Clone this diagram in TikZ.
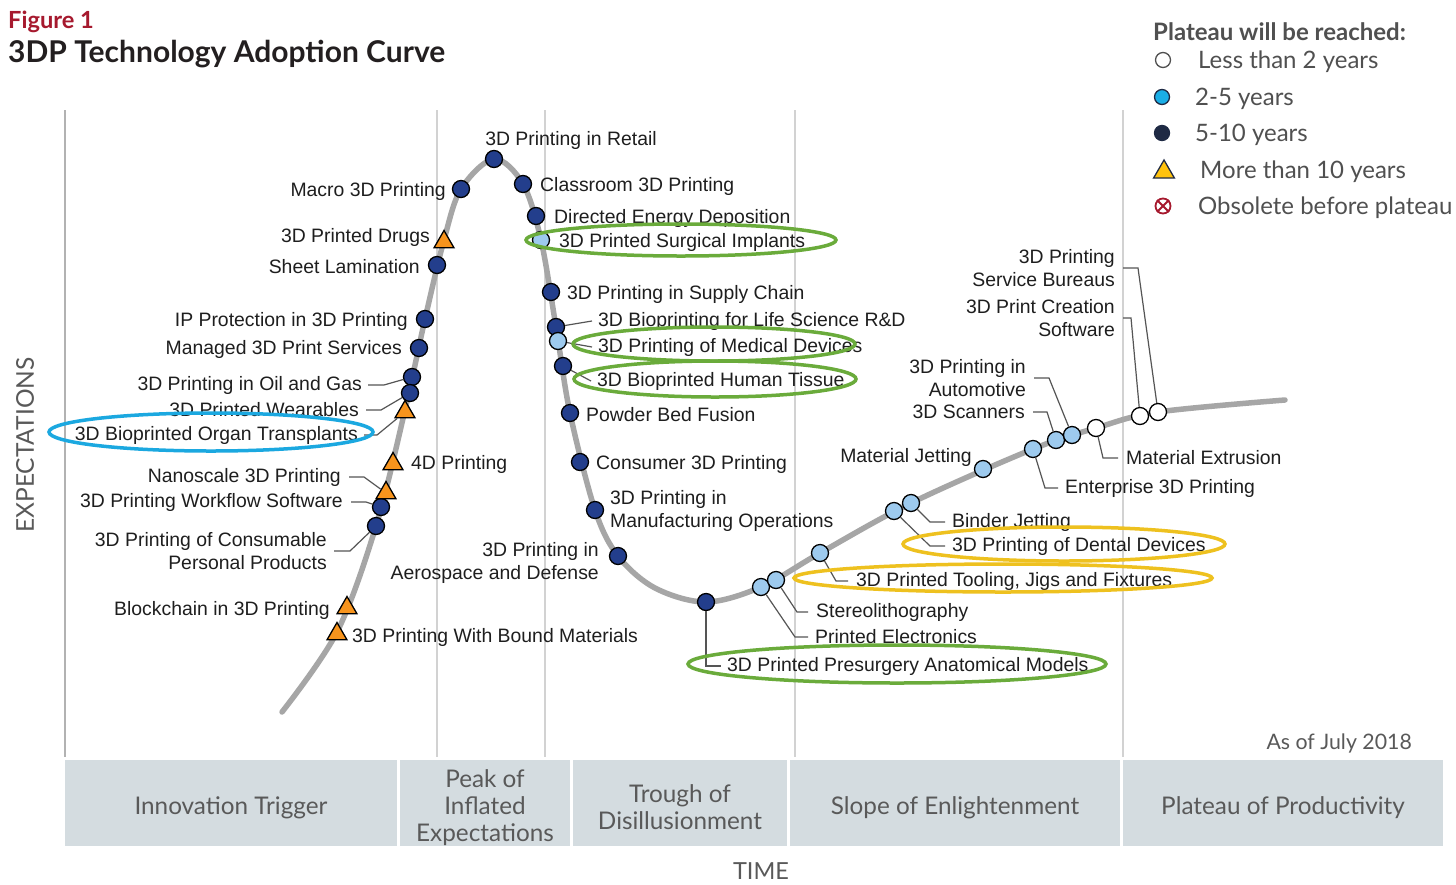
\documentclass[tikz,border=0pt]{standalone}
\usepackage{fontspec}
\usetikzlibrary{shapes.geometric}
\newfontfamily\lato{Lato}
\newfontfamily\labfont{Liberation Sans}
\definecolor{figred}{HTML}{A6192E}
\definecolor{titlec}{HTML}{231F20}
\definecolor{legc}{HTML}{505050}
\definecolor{bandc}{HTML}{D4DCE0}
\definecolor{bandtext}{HTML}{595959}
\definecolor{gridc}{HTML}{D2D2D2}
\definecolor{curvec}{HTML}{A6A6A6}
\definecolor{navy}{HTML}{233E8C}
\definecolor{lblue}{HTML}{9DCAEE}
\definecolor{orangeT}{HTML}{F7941D}
\definecolor{legblue}{HTML}{1AAEE6}
\definecolor{legnavy}{HTML}{1F2A44}
\definecolor{legyellow}{HTML}{FFC20E}
\definecolor{ringgreen}{HTML}{6AAB3B}
\definecolor{ringblue}{HTML}{1BA8E0}
\definecolor{ringyellow}{HTML}{EEC11F}
\definecolor{labc}{HTML}{1E1E1E}
\definecolor{leadc}{HTML}{555555}
\tikzset{
  lbl/.style={font=\labfont\fontsize{19.4}{23}\selectfont, text=labc, inner sep=0pt, yshift=-2pt},
  mk/.style={circle, draw=black, line width=1.3pt, minimum size=17pt, inner sep=0pt},
  dk/.style={mk, fill=navy},
  lt/.style={mk, fill=lblue},
  wh/.style={mk, fill=white},
  tri/.style={regular polygon, regular polygon sides=3, draw=black, line width=1.3pt, fill=orangeT, minimum size=23pt, inner sep=0pt},
  leader/.style={draw=leadc, line width=1.2pt},
  grid/.style={draw=gridc, line width=1.6pt},
  ringg/.style={draw=ringgreen, line width=3.5pt},
  ringb/.style={draw=ringblue, line width=3.5pt},
  ringy/.style={draw=ringyellow, line width=3.5pt},
  band/.style={fill=bandc, inner sep=0pt, minimum height=86pt},
  bandtxt/.style={text=bandtext, align=center, inner sep=0pt, font=\lato\fontsize{24.3}{27}\selectfont},
  legtxt/.style={anchor=west, text=legc, inner sep=0pt, yshift=-2pt, font=\lato\fontsize{24}{28}\selectfont},
}
\begin{document}
\begin{tikzpicture}[x=1pt,y=-1pt]
\useasboundingbox (0,0) rectangle (1456,884);
\fill[white] (0,0) rectangle (1456,884);
% title
\node[anchor=base west, inner sep=0pt, text=figred, font=\lato\bfseries\fontsize{23.6}{26}\selectfont] (fig) at (8,28) {Figure 1};
\node[anchor=base west, inner sep=0pt, text=titlec, font=\lato\bfseries\fontsize{30}{34}\selectfont] (title) at (8,62) {3DP Technology Adoption Curve};
% legend
\node[legtxt, font=\lato\bfseries\fontsize{24}{28}\selectfont] (leghead) at (1153,30) {Plateau will be reached:};
\node[circle, draw=legc, line width=1.3pt, fill=white, minimum size=15pt, inner sep=0pt] (lg1) at (1163,60) {};
\node[legtxt] (lt1) at (1198,60) {Less than 2 years};
\node[circle, draw=legnavy, line width=1.3pt, fill=legblue, minimum size=15pt, inner sep=0pt] (lg2) at (1162,97) {};
\node[legtxt] (lt2) at (1195,97) {2-5 years};
\node[circle, draw=legnavy, line width=1.3pt, fill=legnavy, minimum size=15pt, inner sep=0pt] (lg3) at (1162,133) {};
\node[legtxt] (lt3) at (1195,133) {5-10 years};
\node[regular polygon, regular polygon sides=3, draw=legnavy, line width=1.3pt, fill=legyellow, minimum size=24pt, inner sep=0pt] (lg4) at (1164,172) {};
\node[legtxt] (lt4) at (1200,170) {More than 10 years};
\node[circle, draw=figred, line width=1.8pt, minimum size=15pt, inner sep=0pt] (lg5) at (1163,206) {};
\draw[figred, line width=1.8pt] (lg5.45) -- (lg5.225) (lg5.135) -- (lg5.315);
\node[legtxt] (lt5) at (1198,206) {Obsolete before plateau};
% grid lines
\draw[draw=gridc!85!black, line width=1.8pt] (65,110) -- (65,757);
\draw[grid] (437,110) -- (437,757);
\draw[grid] (545,110) -- (545,757);
\draw[grid] (795,110) -- (795,757);
\draw[grid] (1123,110) -- (1123,757);
% axis labels
\node[rotate=90, text=bandtext, inner sep=0pt, font=\lato\fontsize{24.5}{28}\selectfont] (ylab) at (25,445) {EXPECTATIONS};
\node[text=bandtext, inner sep=0pt, font=\lato\fontsize{23.5}{28}\selectfont] (xlab) at (761,871) {TIME};
\node[anchor=east, text=bandtext, inner sep=0pt, font=\lato\fontsize{21.3}{24}\selectfont] (asof) at (1412,743) {As of July 2018};
% band
\node[band, minimum width=332pt] (b1) at (231,803) {};
\node[band, minimum width=170pt] (b2) at (485,803) {};
\node[band, minimum width=214pt] (b3) at (680,803) {};
\node[band, minimum width=330pt] (b4) at (955,803) {};
\node[band, minimum width=320pt] (b5) at (1283,803) {};
\node[bandtxt] (t1) at ([yshift=-5pt]b1.center) {Innovation Trigger};
\node[bandtxt] (t2) at ([yshift=-5pt]b2.center) {Peak of\\Inflated\\Expectations};
\node[bandtxt] (t3) at ([yshift=-4pt]b3.center) {Trough of\\Disillusionment};
\node[bandtxt] (t4) at ([yshift=-5pt]b4.center) {Slope of Enlightenment};
\node[bandtxt] (t5) at ([yshift=-5pt]b5.center) {Plateau of Productivity};
% curve
\draw[curvec, line width=5.5pt, line cap=round] plot[smooth, tension=0.55] coordinates {(282,712) (337,632) (376,526) (405,410) (425,319) (444,240) (461,189) (494,159) (523,184) (541,240) (556,327) (570,413) (595,510) (618,556) (655,588) (706,602) (761,587) (820,553) (911,503) (1033,449) (1096,428) (1158,412) (1285,400)};
% markers
\node[dk] (mRT) at (494,159) {};
\node[dk] (mMA) at (461,189) {};
\node[dk] (mCL) at (523,184) {};
\node[dk] (mDE) at (536,216) {};
\node[dk] (mSL) at (437,265) {};
\node[dk] (mSU) at (551,292) {};
\node[dk] (mIP) at (425,319) {};
\node[dk] (mMS) at (419,348) {};
\node[dk] (mBL) at (556,327) {};
\node[dk] (mOG) at (412,377) {};
\node[dk] (mWE) at (410,393) {};
\node[dk] (mHT) at (563,366) {};
\node[dk] (mPB) at (570,413) {};
\node[dk] (mCO) at (580,462) {};
\node[dk] (mWF) at (381,507) {};
\node[dk] (mCP) at (376,526) {};
\node[dk] (mMO) at (595,510) {};
\node[dk] (mAD) at (618,556) {};
\node[dk] (mPS) at (706,602) {};
\node[lt] (mSI) at (541,240) {};
\node[lt] (mMD) at (558,341) {};
\node[lt] (mPE) at (761,587) {};
\node[lt] (mST) at (776,580) {};
\node[lt] (mTJ) at (820,553) {};
\node[lt] (mDD) at (894,511) {};
\node[lt] (mBJ) at (911,503) {};
\node[lt] (mMJ) at (983,469) {};
\node[lt] (mEP) at (1033,449) {};
\node[lt] (mSC) at (1056,440) {};
\node[lt] (mAU) at (1072,435) {};
\node[wh] (mME) at (1096,428) {};
\node[wh] (mCS) at (1140,416) {};
\node[wh] (mSB) at (1158,412) {};
\node[tri] (mDR) at (444,242) {};
\node[tri] (mOT) at (405,412) {};
\node[tri] (mFD) at (393,464) {};
\node[tri] (mNS) at (386,493) {};
\node[tri] (mBC) at (347,608) {};
\node[tri] (mBM) at (337,634) {};
% labels right
\node[lbl] (lRT) at (571,138) {3D Printing in Retail};
\node[lbl, anchor=west] (lCL) at (540,184) {Classroom 3D Printing};
\node[lbl, anchor=west] (lDE) at (554,216) {Directed Energy Deposition};
\node[lbl, anchor=west] (lSI) at (559,240) {3D Printed Surgical Implants};
\node[lbl, anchor=west] (lSU) at (567,292) {3D Printing in Supply Chain};
\node[lbl, anchor=west] (lBL) at (598,319) {3D Bioprinting for Life Science R\&D};
\node[lbl, anchor=west] (lMD) at (598,345) {3D Printing of Medical Devices};
\node[lbl, anchor=west] (lHT) at (597,379) {3D Bioprinted Human Tissue};
\node[lbl, anchor=west] (lPB) at (586,413) {Powder Bed Fusion};
\node[lbl, anchor=west] (lCO) at (596,462) {Consumer 3D Printing};
\node[lbl, anchor=west, align=left] (lMO) at (610,509) {3D Printing in\\Manufacturing Operations};
\node[lbl, anchor=west] (lFD) at (411,462) {4D Printing};
\node[lbl, anchor=west] (lBM) at (352,635) {3D Printing With Bound Materials};
\node[lbl, anchor=west] (lPS) at (727,664) {3D Printed Presurgery Anatomical Models};
\node[lbl, anchor=west] (lPE) at (815,635) {Printed Electronics};
\node[lbl, anchor=west] (lST) at (816,610) {Stereolithography};
\node[lbl, anchor=west] (lTJ) at (856,579) {3D Printed Tooling, Jigs and Fixtures};
\node[lbl, anchor=west] (lDD) at (952,544) {3D Printing of Dental Devices};
\node[lbl, anchor=west] (lBJ) at (952,520) {Binder Jetting};
\node[lbl, anchor=west] (lEP) at (1065,486) {Enterprise 3D Printing};
\node[lbl, anchor=west] (lME) at (1126,456) {Material Extrusion};
% labels left
\node[lbl, anchor=east] (lMA) at (446,189) {Macro 3D Printing};
\node[lbl, anchor=east] (lDR) at (430,235) {3D Printed Drugs};
\node[lbl, anchor=east] (lSL) at (420,265) {Sheet Lamination};
\node[lbl, anchor=east] (lIP) at (408,319) {IP Protection in 3D Printing};
\node[lbl, anchor=east] (lMS) at (402,347) {Managed 3D Print Services};
\node[lbl, anchor=east] (lOG) at (362,383) {3D Printing in Oil and Gas};
\node[lbl, anchor=east] (lWE) at (359,408) {3D Printed Wearables};
\node[lbl, anchor=east] (lOT) at (358,433) {3D Bioprinted Organ Transplants};
\node[lbl, anchor=east] (lNS) at (341,475) {Nanoscale 3D Printing};
\node[lbl, anchor=east] (lWF) at (343,500) {3D Printing Workflow Software};
\node[lbl, anchor=east, align=right] (lCP) at (327,549) {3D Printing of Consumable\\Personal Products};
\node[lbl, anchor=east] (lBC) at (330,608) {Blockchain in 3D Printing};
\node[lbl, anchor=east, align=right] (lAD) at (599,561) {3D Printing in\\Aerospace and Defense};
\node[lbl, anchor=east] (lMJ) at (972,455) {Material Jetting};
\node[lbl, anchor=east] (lSC) at (1025,410) {3D Scanners};
\node[lbl, anchor=east, align=right] (lAU) at (1026,376) {3D Printing in\\Automotive};
\node[lbl, anchor=east, align=right] (lSB) at (1115,266) {3D Printing\\Service Bureaus};
\node[lbl, anchor=east, align=right] (lCS) at (1115,316) {3D Print Creation\\Software};
% leaders
\draw[leader] (mBL) -- ([xshift=-6pt]lBL.west);
\draw[leader] (mMD) -- ([xshift=-6pt]lMD.west);
\draw[leader] (mHT) -- ([xshift=-6pt]lHT.west);
\draw[leader] ([xshift=6pt]lOG.east) -- ([xshift=22pt]lOG.east) -- (mOG);
\draw[leader] ([xshift=7pt]lWE.east) -- ([xshift=22pt]lWE.east) -- (mWE);
\draw[leader] ([xshift=6pt]lOT.east) -- ([xshift=19pt]lOT.east) -- (mOT);
\draw[leader] ([xshift=8pt]lNS.east) -- ([xshift=23pt]lNS.east) -- (mNS);
\draw[leader] ([xshift=8pt]lWF.east) -- ([xshift=23pt]lWF.east) -- (mWF);
\draw[leader] ([xshift=7pt]lCP.east) -- ([xshift=23pt]lCP.east) -- (mCP);
\draw[leader] (mPS) |- ([xshift=-6pt]lPS.west);
\draw[leader] (mPE) -- ([xshift=-20pt]lPE.west) -- ([xshift=-7pt]lPE.west);
\draw[leader] (mST) -- ([xshift=-19pt]lST.west) -- ([xshift=-8pt]lST.west);
\draw[leader] (mTJ) -- ([xshift=-20pt]lTJ.west) -- ([xshift=-8pt]lTJ.west);
\draw[leader] (mDD) -- ([xshift=-22pt]lDD.west) -- ([xshift=-7pt]lDD.west);
\draw[leader] (mBJ) -- ([xshift=-22pt]lBJ.west) -- ([xshift=-7pt]lBJ.west);
\draw[leader] (mEP) -- ([xshift=-20pt]lEP.west) -- ([xshift=-7pt]lEP.west);
\draw[leader] (mME) -- ([xshift=-23pt]lME.west) -- ([xshift=-8pt]lME.west);
\draw[leader] ([xshift=8pt]lSC.east) -- ([xshift=22pt]lSC.east) -- (mSC);
\draw[leader] ([xshift=8pt]lAU.east) -- ([xshift=23pt]lAU.east) -- (mAU);
\draw[leader] ([xshift=8pt]lSB.east) -- ([xshift=23pt]lSB.east) -- (mSB);
\draw[leader] ([xshift=8pt]lCS.east) -- ([xshift=16pt]lCS.east) -- (mCS);
% highlight rings
\draw[ringg] (681,240) ellipse [x radius=155pt, y radius=16pt];
\draw[ringg] (714,344) ellipse [x radius=141pt, y radius=17pt];
\draw[ringg] (715,379) ellipse [x radius=141pt, y radius=18pt];
\draw[ringg] (897,664) ellipse [x radius=209pt, y radius=19pt];
\draw[ringb] (211,432) ellipse [x radius=162pt, y radius=19pt];
\draw[ringy] (1064,544) ellipse [x radius=161pt, y radius=17pt];
\draw[ringy] (1003,578) ellipse [x radius=209pt, y radius=14pt];
\end{tikzpicture}
\end{document}
